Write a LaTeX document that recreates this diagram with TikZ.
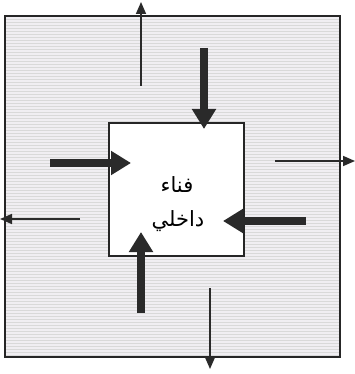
\documentclass[tikz,border=0pt]{standalone}
\usepackage{fontspec}
\newfontfamily\arabicfont[Script=Arabic]{DejaVu Sans}
\TeXXeTstate=1
\usetikzlibrary{arrows.meta,patterns}
\definecolor{arrowc}{HTML}{2A2A2A}
\definecolor{bgc}{HTML}{F0EEF2}
\tikzset{
  thickarrow/.style={draw=arrowc, line width=8pt, -{Triangle[width=23pt,length=20pt]}},
  thinarrow/.style={draw=arrowc, line width=1.6pt, -{Triangle[width=10pt,length=12pt]}},
  box/.style={draw=black!85, line width=1.8pt, inner sep=0pt}
}
\begin{document}
\begin{tikzpicture}[x=1pt,y=-1pt]
\useasboundingbox (0,0) rectangle (355,374);
\fill[white] (0,0) rectangle (355,374);
% outer area
\node (outer) [box, fill=bgc, minimum width=335pt, minimum height=341pt] at (172.5,186.5) {};
\fill[pattern=horizontal lines, pattern color=gray!30] (6,17) rectangle (339,356);
\node (outerb) [box, minimum width=335pt, minimum height=341pt] at (172.5,186.5) {};
% inner court
\node (inner) [box, fill=white, minimum width=135pt, minimum height=133pt] at (176.5,189.5) {};
\node (t1) at (177,185) {\fontsize{21pt}{24pt}\arabicfont\beginR فناء\endR};
\node (t2) at (178,221) {\fontsize{21pt}{24pt}\arabicfont\beginR داخلي\endR};
% endpoints
\coordinate (a1s) at (141,86);  \coordinate (a1e) at (141,2);
\coordinate (a2s) at (204,48);  \coordinate (a2e) at (204,129);
\coordinate (a3s) at (50,163);  \coordinate (a3e) at (131,163);
\coordinate (a4s) at (80,219);  \coordinate (a4e) at (0,219);
\coordinate (a5s) at (275,161); \coordinate (a5e) at (355,161);
\coordinate (a6s) at (306,221); \coordinate (a6e) at (223,221);
\coordinate (a7s) at (141,313); \coordinate (a7e) at (141,232);
\coordinate (a8s) at (210,288); \coordinate (a8e) at (210,369);
% arrows
\draw[thinarrow] (a1s) -- (a1e);
\draw[thickarrow] (a2s) -- (a2e);
\draw[thickarrow] (a3s) -- (a3e);
\draw[thinarrow] (a4s) -- (a4e);
\draw[thinarrow] (a5s) -- (a5e);
\draw[thickarrow] (a6s) -- (a6e);
\draw[thickarrow] (a7s) -- (a7e);
\draw[thinarrow] (a8s) -- (a8e);
\end{tikzpicture}
\end{document}
